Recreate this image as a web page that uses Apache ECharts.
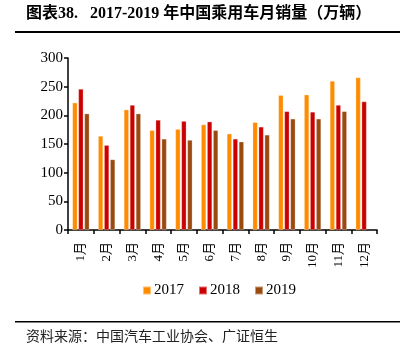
<!DOCTYPE html>
<html>
<head>
<meta charset="utf-8">
<script src="https://cdn.jsdelivr.net/npm/echarts@6/dist/echarts.min.js"></script>
<style>html,body{margin:0;padding:0;background:#fff}#c{width:400px;height:359px}</style>
</head>
<body>
<div id="c"></div>
<script>
var months = ['1月','2月','3月','4月','5月','6月','7月','8月','9月','10月','11月','12月'];
var s2017 = [222, 164, 210, 174, 176, 184, 168, 188, 235, 236, 260, 266];
var s2018 = [246, 148, 218, 192, 190, 189, 159, 180, 207, 206, 218, 224];
var s2019 = [203, 123, 203, 159, 157, 174, 154, 166, 194, 194, 207, null];
var yTicks = [0, 50, 100, 150, 200, 250, 300];

var serif = '"Liberation Serif", "Noto Sans CJK SC", serif';
var chart = echarts.init(document.getElementById('c'), null, {renderer: 'canvas'});
function bar(name, data, color) {
  return {
    name: name, type: 'bar', data: data, barWidth: 5, barGap: '20%',
    itemStyle: {color: color, borderColor: 'rgba(255,255,255,0.45)', borderWidth: 0.6},
    emphasis: {disabled: true}
  };
}
chart.setOption({
  animation: false,
  textStyle: {fontFamily: serif},
  grid: {left: 68, right: 23, top: 58, bottom: 129},
  legend: {
    bottom: 56, left: 137, itemWidth: 8, itemHeight: 8, itemGap: 14,
    icon: 'rect',
    textStyle: {fontFamily: serif, fontSize: 15, color: '#000', padding: [0, 0, 0, -2]},
    data: ['2017', '2018', '2019']
  },
  xAxis: {
    type: 'category', data: months,
    axisLine: {lineStyle: {color: '#000', width: 1.5}},
    axisTick: {show: true, alignWithLabel: false, length: 4, lineStyle: {color: '#000', width: 1.5}},
    axisLabel: {rotate: 90, color: '#000', fontSize: 13, fontFamily: serif, margin: 12, interval: 0}
  },
  yAxis: {
    type: 'value', min: 0, max: 300, interval: 50,
    axisLine: {show: true, lineStyle: {color: '#000', width: 1.5}},
    axisTick: {show: true, length: 4, lineStyle: {color: '#000', width: 1.5}},
    splitLine: {show: false},
    axisLabel: {color: '#000', fontSize: 15, fontFamily: serif, margin: 5,
      formatter: function (v) { return yTicks.indexOf(v) >= 0 ? String(v) : ''; }}
  },
  series: [
    bar('2017', s2017, '#FF8C00'),
    bar('2018', s2018, '#CC0000'),
    bar('2019', s2019, '#9A4A0E')
  ],
  graphic: [
    {type: 'text', left: 26, top: 6, style: {text: '图表38.   2017-2019 年中国乘用车月销量（万辆）',
      font: 'bold 16px "Liberation Serif", "Noto Sans CJK SC", serif', fill: '#000'}},
    {type: 'rect', shape: {x: 15, y: 31, width: 385, height: 2}, style: {fill: '#000'}},
    {type: 'rect', shape: {x: 15, y: 321, width: 385, height: 1.5}, style: {fill: '#000'}},
    {type: 'text', left: 26, top: 329, style: {text: '资料来源：中国汽车工业协会、广证恒生',
      font: '14px "Noto Sans CJK SC", sans-serif', fill: '#222'}}
  ]
});
</script>
</body>
</html>
